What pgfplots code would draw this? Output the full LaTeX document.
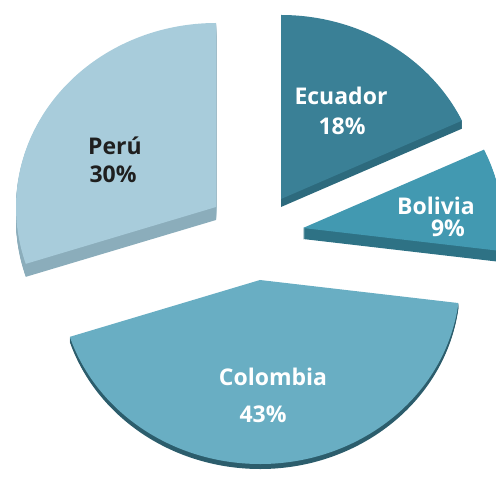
\documentclass[border=0pt]{standalone}
\usepackage{pgfplots}
\pgfplotsset{compat=1.18}
\usepackage{pgfplotstable}
\usepackage{fontspec}
\setmainfont{Open Sans}
\definecolor{ecuT}{HTML}{3A8096}
\definecolor{ecuS}{HTML}{2D6A7D}
\definecolor{bolT}{HTML}{4299B1}
\definecolor{bolS}{HTML}{2E7285}
\definecolor{colT}{HTML}{69AEC3}
\definecolor{colS}{HTML}{2C5D6C}
\definecolor{perT}{HTML}{A8CCDB}
\definecolor{perS}{HTML}{8BADBB}
\pgfplotstableread{
name pct ax ay thick top side
Ecuador 18 281 280 8 ecuT ecuS
Bolivia 9 303 251 11 bolT bolS
Colombia 43 260 199 5 colT colS
Peru 30 216 272 13 perT perS
}\piedata
\tikzset{lab/.style={anchor=base, inner sep=0pt, font=\bfseries\fontsize{23}{28}\selectfont}}
\begin{document}
\begin{tikzpicture}
\path[use as bounding box, clip] (0,0) rectangle (496pt,479pt);
\begin{axis}[x=1pt, y=1pt, xmin=0, xmax=496, ymin=0, ymax=479,
  hide axis, anchor=origin, at={(0,0)}, clip=false]
\pgfplotsextra{%
  \xdef\curang{90}%
  \foreach \i in {0,...,3}{%
    \pgfplotstablegetelem{\i}{pct}\of\piedata\let\pct\pgfplotsretval
    \pgfplotstablegetelem{\i}{ax}\of\piedata\let\ax\pgfplotsretval
    \pgfplotstablegetelem{\i}{ay}\of\piedata\let\ay\pgfplotsretval
    \pgfplotstablegetelem{\i}{thick}\of\piedata\let\thick\pgfplotsretval
    \pgfplotstablegetelem{\i}{top}\of\piedata\let\topc\pgfplotsretval
    \pgfplotstablegetelem{\i}{side}\of\piedata\let\sidec\pgfplotsretval
    \pgfmathsetmacro\endang{\curang-3.6*\pct}%
    \foreach \d in {1,...,\thick}{%
      \pgfmathsetmacro\yy{\ay-\d}%
      \fill[fill=\sidec] (axis cs:\ax,\yy) -- ++(\curang:200pt and 184pt)
        arc[start angle=\curang, end angle=\endang, x radius=200pt, y radius=184pt] -- cycle;
    }%
    \fill[fill=\topc] (axis cs:\ax,\ay) -- ++(\curang:200pt and 184pt)
      arc[start angle=\curang, end angle=\endang, x radius=200pt, y radius=184pt] -- cycle;
    \xdef\curang{\endang}%
  }%
}
\node[lab, text=white] at (axis cs:341,374) {Ecuador};
\node[lab, text=white] at (axis cs:342,344) {18\%};
\node[lab, text=white] at (axis cs:436,264) {Bolivia};
\node[lab, text=white] at (axis cs:448,242) {9\%};
\node[lab, text=white] at (axis cs:273,93) {Colombia};
\node[lab, text=white] at (axis cs:263,56) {43\%};
\node[lab, text=black!88] at (axis cs:115,324) {Perú};
\node[lab, text=black!88] at (axis cs:113,296) {30\%};
\end{axis}
\end{tikzpicture}
\end{document}
